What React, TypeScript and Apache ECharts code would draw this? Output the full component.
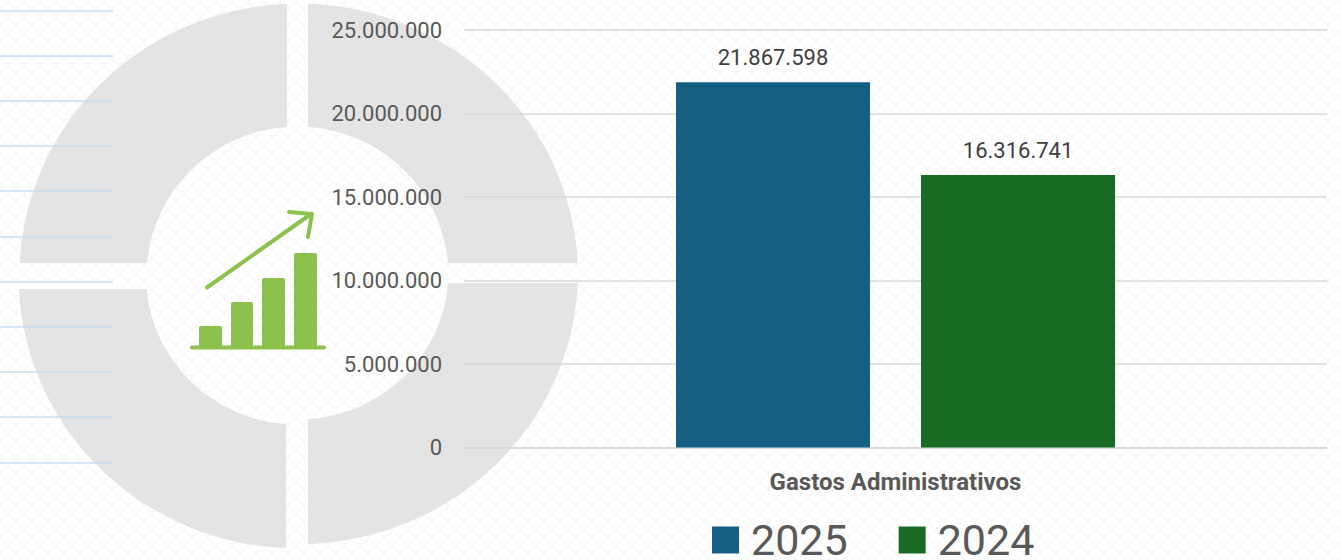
import React, { useEffect, useRef } from "react";
import * as echarts from "echarts";

const categories = ["Gastos Administrativos"];
const seriesNames = ["2025", "2024"];
const values2025 = [21867598];
const values2024 = [16316741];
const seriesColors = ["#156082", "#196B24"];
const ruleRows = [11, 56, 101, 146, 191, 237, 282, 327, 372, 417, 463];

const fmt = (n: number) => String(n).replace(/\B(?=(\d{3})+(?!\d))/g, ".");

const ring = (cx: number, cy: number, sx: number, sy: number, xo: number, yo: number, xi: number, yi: number, rxo: number, ryo: number, rxi: number, ryi: number) => {
  const ox = cx + sx * Math.sqrt(Math.max(0, 1 - (yo * yo) / (ryo * ryo))) * rxo;
  const oy = cy + sy * Math.sqrt(Math.max(0, 1 - (xo * xo) / (rxo * rxo))) * ryo;
  const ix = cx + sx * Math.sqrt(Math.max(0, 1 - (yi * yi) / (ryi * ryi))) * rxi;
  const iy = cy + sy * Math.sqrt(Math.max(0, 1 - (xi * xi) / (rxi * rxi))) * ryi;
  const ax = cx + sx * xo;
  const ay = cy + sy * yo;
  const sweepOut = sx * sy > 0 ? 1 : 0;
  const sweepIn = sweepOut ? 0 : 1;
  return `M${ox} ${ay}A${rxo} ${ryo} 0 0 ${sweepOut} ${ax} ${oy}L${ax} ${iy}A${rxi} ${ryi} 0 0 ${sweepIn} ${ix} ${ay}Z`;
};

const donutPaths: Record<string, string> = {
  qTL: ring(298, 276, -1, -1, 11, 13, 11, 13, 278.6, 272.3, 151.5, 149.5),
  qTR: ring(298, 276, 1, -1, 10, 13, 10, 13, 280, 272.3, 150.5, 149.5),
  qBL: ring(297, 276, -1, 1, 11, 13, 11, 13, 278.4, 272.3, 151, 148.5),
  qBR: ring(298, 272, 1, 1, 10, 11, 10, 11, 280, 272.3, 150.5, 147.5),
};

Object.keys(donutPaths).forEach((k) => {
  echarts.graphic.registerShape(k, echarts.graphic.extendPath(donutPaths[k] as any, {}) as any);
});

const tile = `<svg xmlns='http://www.w3.org/2000/svg' width='16' height='16'><path d='M0 8A8 8 0 0 0 16 8M-8 0A8 8 0 0 0 8 0M8 0A8 8 0 0 0 24 0' fill='none' stroke='%23f5f5f5' stroke-width='1'/></svg>`;

const barIcon = [
  [199, 326, 23],
  [231, 302, 22],
  [262, 278, 23],
  [294, 253, 23],
];

export default function App() {
  const ref = useRef<HTMLDivElement>(null);
  useEffect(() => {
    document.body.style.margin = "0";
    const chart = echarts.init(ref.current!, undefined, { renderer: "svg", width: 1341, height: 560 });
    const green = "#8BC14C";
    const graphic: any[] = [
      ...Object.keys(donutPaths).map((k) => ({ type: k, z: 0, style: { fill: "#E4E4E4" } })),
      ...ruleRows.map((y) => ({ type: "line", z: 5, shape: { x1: 0, y1: y, x2: 113, y2: y }, style: { stroke: "#C8DEF5", lineWidth: 1.7 } })),
      ...barIcon.map(([x, y, w]) => ({ type: "rect", z: 5, shape: { x, y, width: w, height: 347 - y, r: [2, 2, 0, 0] }, style: { fill: green } })),
      { type: "line", z: 5, shape: { x1: 192, y1: 347.5, x2: 324, y2: 347.5 }, style: { stroke: green, lineWidth: 4, lineCap: "round" } },
      { type: "line", z: 5, shape: { x1: 207, y1: 287.5, x2: 311, y2: 214 }, style: { stroke: green, lineWidth: 4, lineCap: "round" } },
      { type: "polyline", z: 5, shape: { points: [[289, 212], [312, 214], [308, 237]] }, style: { stroke: green, fill: "none", lineWidth: 4, lineCap: "round", lineJoin: "round" } },
    ];
    const label = {
      show: true,
      position: "top",
      distance: 14,
      fontFamily: "Roboto",
      fontSize: 22,
      color: "#404040",
      formatter: (p: any) => fmt(p.value),
    };
    chart.setOption({
      animation: false,
      backgroundColor: "transparent",
      graphic,
      grid: { left: 464, right: 14, top: 30, bottom: 112.5 },
      legend: {
        left: 712,
        top: 518.5,
        padding: 0,
        itemGap: 51,
        itemWidth: 27,
        itemHeight: 27,
        icon: "rect",
        textStyle: { fontFamily: "Roboto", fontSize: 43, lineHeight: 30, color: "#595959", padding: [0, 0, 8, 7] },
        data: seriesNames,
      },
      xAxis: {
        type: "category",
        data: categories,
        axisTick: { show: false },
        axisLine: { lineStyle: { color: "#D9D9D9", width: 1.5 } },
        axisLabel: { margin: 22, fontFamily: "Roboto", fontWeight: "bold", fontSize: 24, color: "#595959" },
      },
      yAxis: {
        type: "value",
        min: 0,
        max: 25000000,
        interval: 5000000,
        axisLine: { show: false },
        axisTick: { show: false },
        splitLine: { lineStyle: { color: "#D9D9D9", width: 1.5 } },
        axisLabel: { margin: 22, fontFamily: "Roboto", fontSize: 22, color: "#595959", formatter: (v: number) => fmt(v) },
      },
      series: [
        { name: seriesNames[0], type: "bar", data: values2025, barWidth: 194, barGap: "26.3%", itemStyle: { color: seriesColors[0] }, label },
        { name: seriesNames[1], type: "bar", data: values2024, barWidth: 194, itemStyle: { color: seriesColors[1] }, label },
      ],
    });
    return () => chart.dispose();
  }, []);
  return (
    <div
      ref={ref}
      style={{
        position: "absolute",
        left: 0,
        top: 0,
        width: 1341,
        height: 560,
        overflow: "hidden",
        backgroundColor: "#fff",
        backgroundImage: `url("data:image/svg+xml,${tile.replace(/</g, "%3C").replace(/>/g, "%3E")}")`,
      }}
    />
  );
}
